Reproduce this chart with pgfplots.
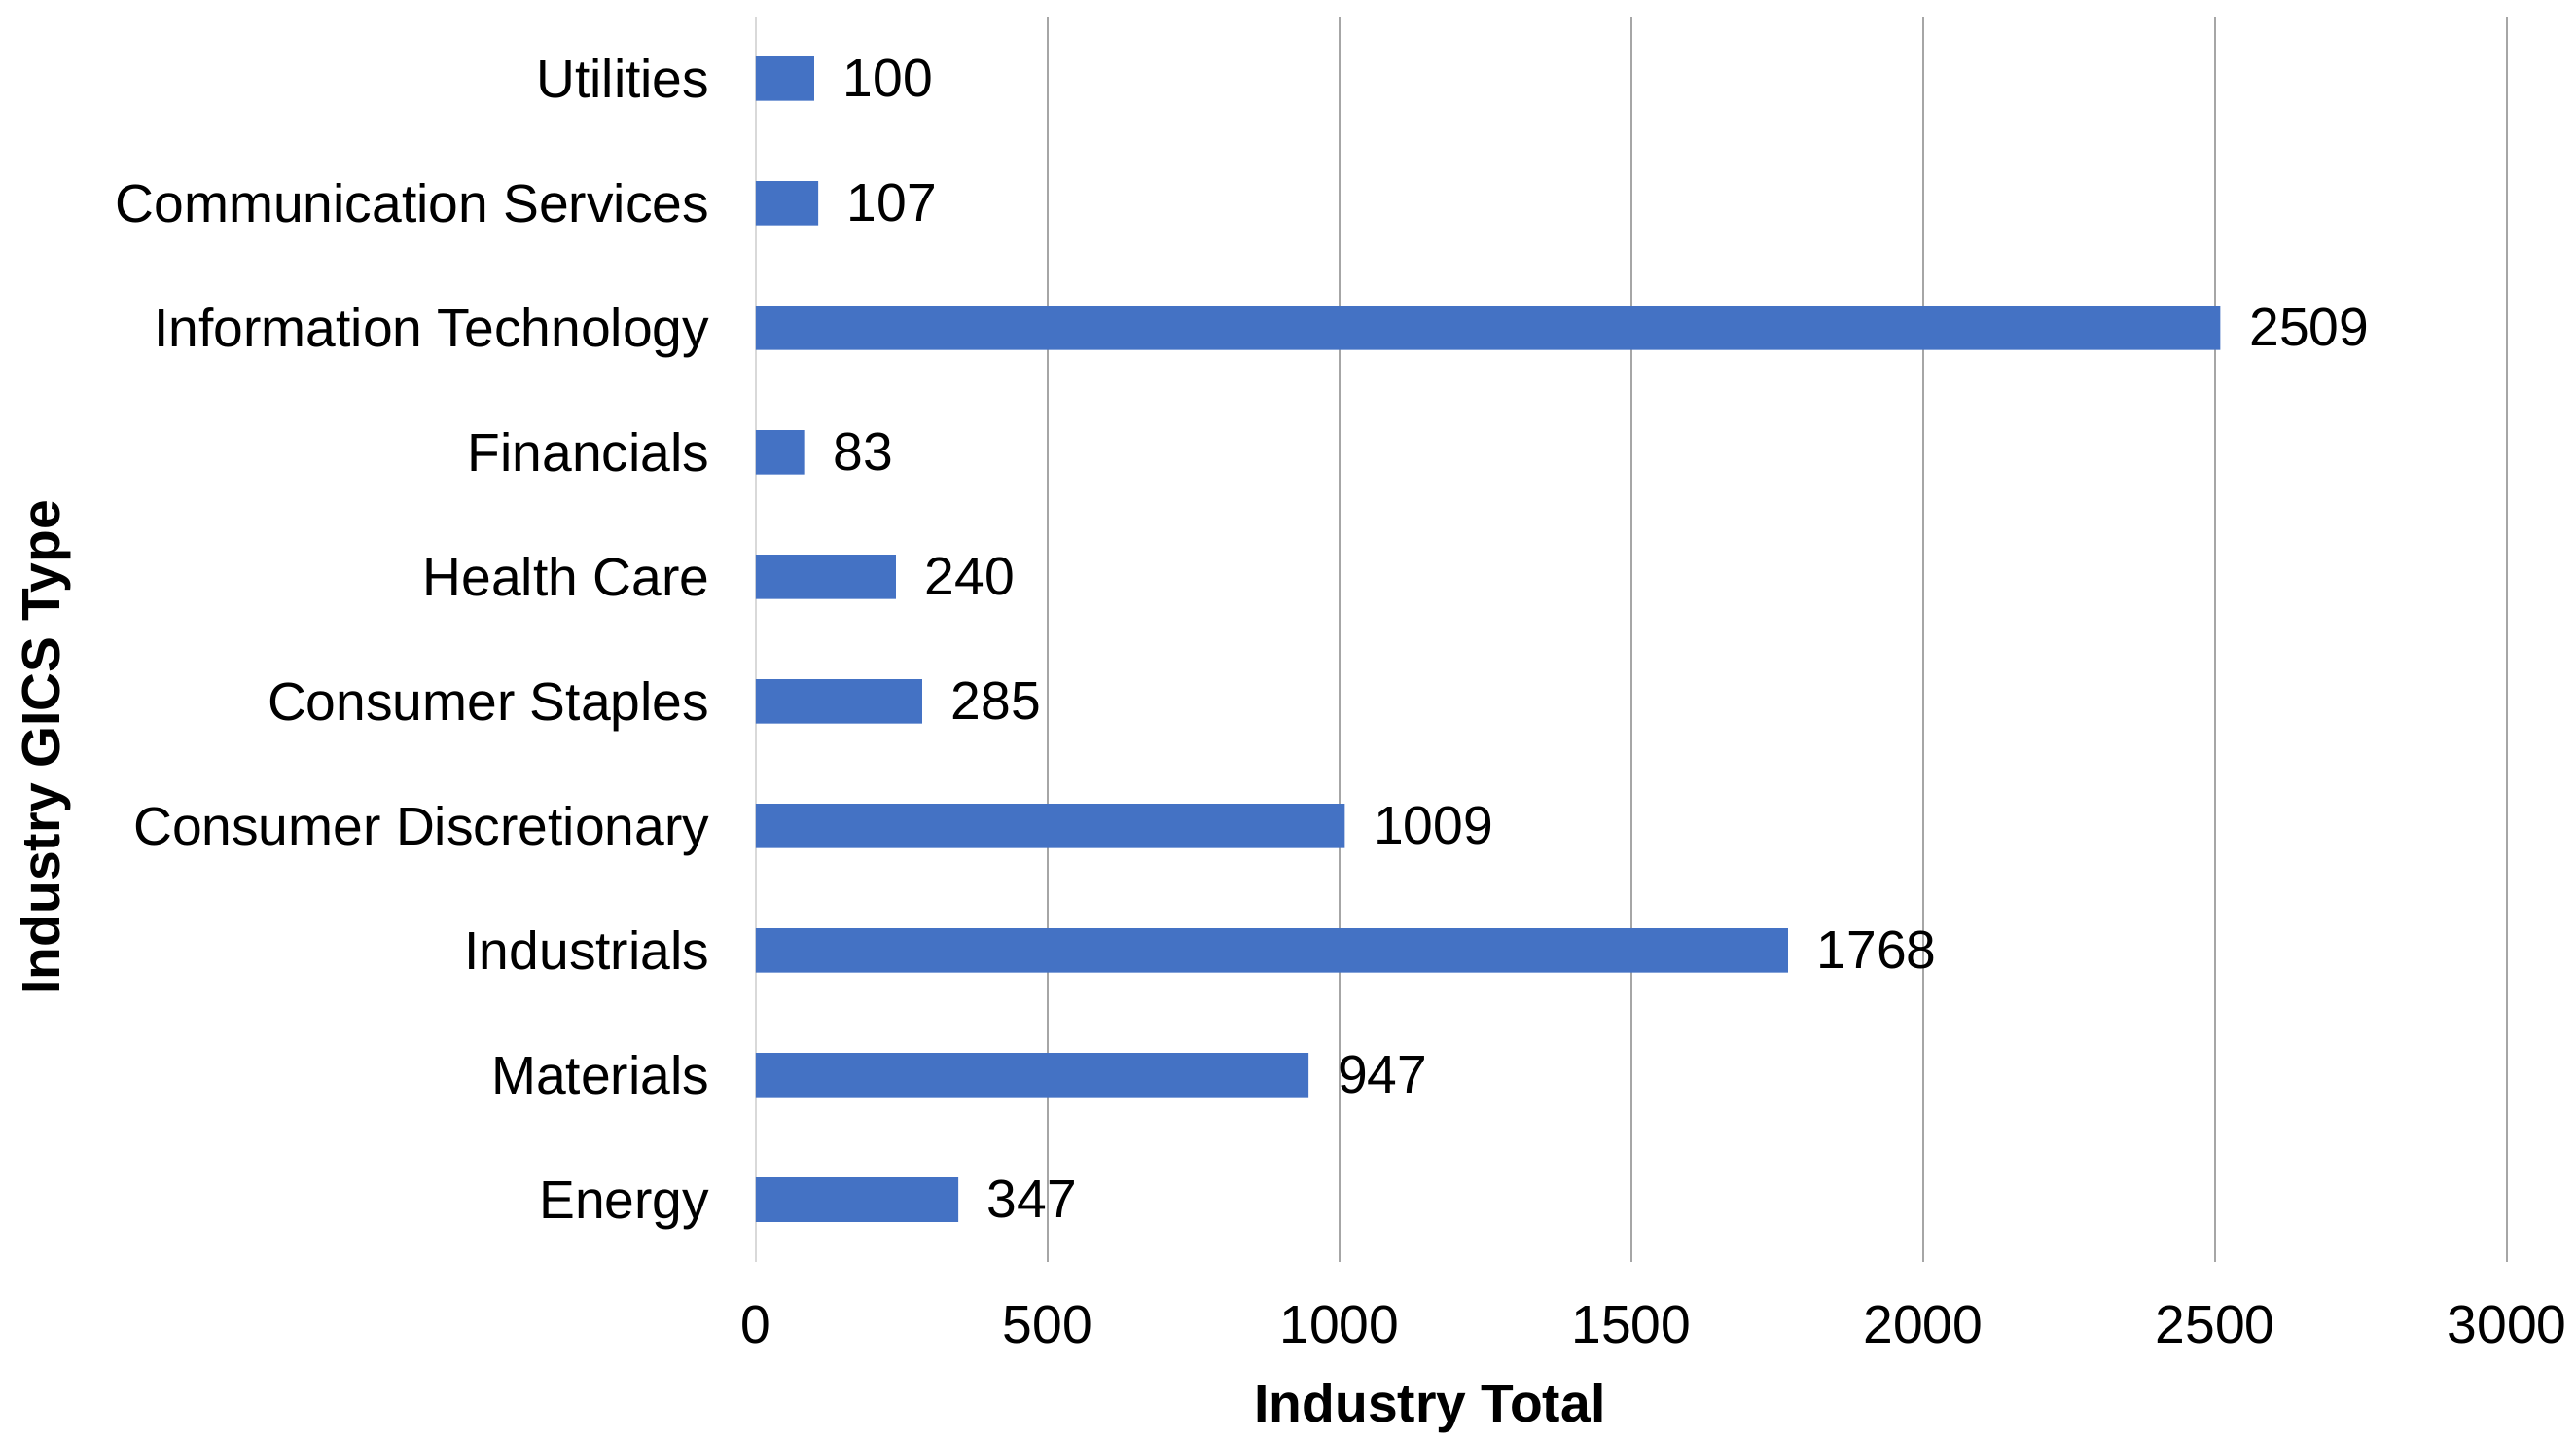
\documentclass[border=0pt]{standalone}
\usepackage{pgfplots}
\pgfplotsset{compat=1.18}
\usepackage{fontspec}
\setmainfont{Liberation Sans}
\definecolor{barblue}{HTML}{4472C4}
\definecolor{gridgray}{HTML}{A6A6A6}
\definecolor{axgray}{HTML}{D9D9D9}
\begin{document}
\begin{tikzpicture}
\path[use as bounding box] (-46mm,-10.8mm) rectangle (110.8mm,76.8mm);
\begin{axis}[
  anchor=south west, at={(0,0)},
  width=106.6mm, height=75.8mm, scale only axis,
  xbar, bar width=2.7mm,
  xmin=0, xmax=3000, ymin=-0.5, ymax=9.5,
  xtick={0,500,...,3000},
  ytick={0,...,9},
  yticklabels={Energy,Materials,Industrials,Consumer Discretionary,Consumer Staples,Health Care,Financials,Information Technology,Communication Services,Utilities},
  scaled x ticks=false,
  /pgf/number format/assume math mode=true,
  /pgf/number format/1000 sep={},
  major tick length=0pt,
  axis lines*=left,
  x axis line style={draw=none},
  y axis line style={draw=axgray, line width=0.4pt},
  xmajorgrids,
  major grid style={draw=gridgray, line width=0.35pt},
  tick label style={font=\fontsize{9.3}{11}\selectfont, text=black},
  xticklabel style={anchor=north, inner sep=0pt, yshift=-2.6mm},
  yticklabel style={anchor=base east, inner sep=0pt, xshift=-2.75mm, yshift=-1.17mm},
  xlabel={\textbf{Industry Total}},
  ylabel={\textbf{Industry GICS Type}},
  label style={font=\fontsize{9.3}{11}\selectfont},
  xlabel style={at={(axis description cs:0.385,-0.117)}, anchor=center},
  ylabel style={at={(axis description cs:-0.405,0.413)}, anchor=center},
  nodes near coords,
  nodes near coords style={anchor=west, inner sep=0pt, xshift=1.7mm, font=\fontsize{9.3}{11}\selectfont, text=black},
]
\addplot[fill=barblue, draw=none] coordinates {
  (347,0) (947,1) (1768,2) (1009,3) (285,4) (240,5) (83,6) (2509,7) (107,8) (100,9)
};
\end{axis}
\end{tikzpicture}
\end{document}
